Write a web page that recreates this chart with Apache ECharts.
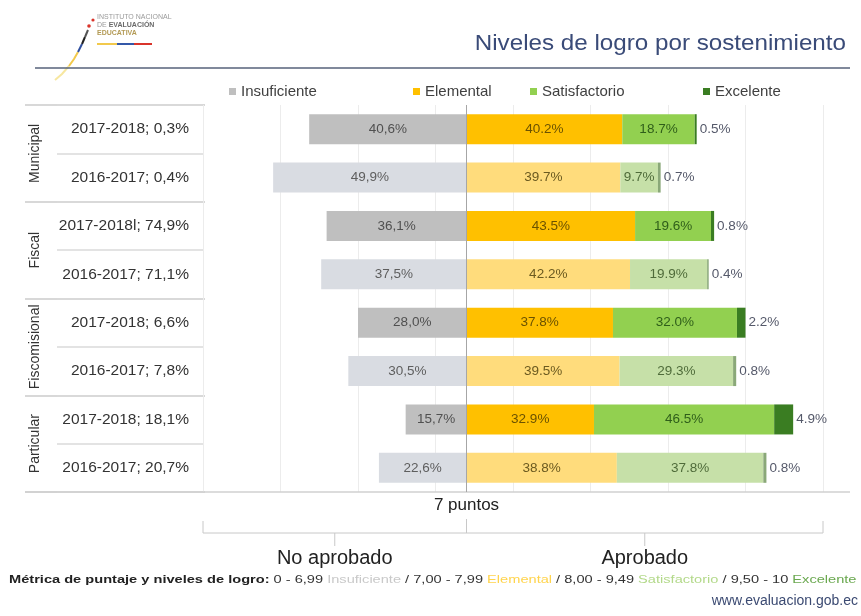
<!DOCTYPE html>
<html>
<head>
<meta charset="utf-8">
<script src="https://cdn.jsdelivr.net/npm/echarts@6/dist/echarts.min.js"></script>
<style>
  html, body { margin: 0; padding: 0; background: #fff; }
  #chart { width: 861px; height: 616px; }
</style>
</head>
<body>
<div id="chart"></div>
<script>
// datos (% de estudiantes por nivel)
const groups = ['Municipal', 'Fiscal', 'Fiscomisional', 'Particular']
const rowLabels = [
  '2017-2018; 0,3%', '2016-2017; 0,4%',
  '2017-2018l; 74,9%', '2016-2017; 71,1%',
  '2017-2018; 6,6%', '2016-2017; 7,8%',
  '2017-2018; 18,1%', '2016-2017; 20,7%'
]
const levels = ['Insuficiente', 'Elemental', 'Satisfactorio', 'Excelente']
const insuficiente = [40.6, 49.9, 36.1, 37.5, 28.0, 30.5, 15.7, 22.6]
const elemental = [40.2, 39.7, 43.5, 42.2, 37.8, 39.5, 32.9, 38.8]
const satisfactorio = [18.7, 9.7, 19.6, 19.9, 32.0, 29.3, 46.5, 37.8]
const excelente = [0.5, 0.7, 0.8, 0.4, 2.2, 0.8, 4.9, 0.8]

// colores: fila 2017-2018 oscura, fila 2016-2017 clara
const darkColors = ['#bfbfbf', '#ffc000', '#92d050', '#3a7d22']
const lightColors = ['#d9dce2', '#ffdc7c', '#c6e0a8', '#8aa878']
const darkLabel = ['#505050', '#6b5200', '#2f5e1a', '#55596a']
const lightLabel = ['#5e5e5e', '#6b5a20', '#4f6b3a', '#55596a']

const axisMin = -68
const axisMax = 92
const font = 'Liberation Sans, Arial, sans-serif'

const chart = echarts.init(document.getElementById('chart'))

const fmtComma = p => Math.abs(p.value).toFixed(1).replace('.', ',') + '%'
const fmtDot = p => Math.abs(p.value).toFixed(1) + '%'

const makeData = (vals, li, sign) => vals.map((v, i) => ({
  value: sign * v,
  itemStyle: { color: i % 2 === 0 ? darkColors[li] : lightColors[li] },
  label: { color: i % 2 === 0 ? darkLabel[li] : lightLabel[li] }
}))

const valueSets = [insuficiente, elemental, satisfactorio, excelente]

const series = valueSets.map((vals, li) => ({
  name: levels[li],
  type: 'bar',
  stack: 'total',
  barWidth: 30,
  xAxisIndex: 0,
  yAxisIndex: 0,
  itemStyle: { color: darkColors[li] },
  data: makeData(vals, li, li === 0 ? -1 : 1),
  label: {
    show: true,
    position: li === 3 ? 'right' : 'inside',
    distance: 3,
    fontSize: 13.5,
    fontFamily: font,
    formatter: li === 0 ? fmtComma : fmtDot
  },
  markLine: li === 1 ? {
    silent: true,
    symbol: ['none', 'none'],
    label: { show: false },
    lineStyle: { color: '#a6a6a6', type: 'solid', width: 1 },
    data: [{ xAxis: 0 }]
  } : undefined
}))

const legendLeft = [229, 413, 530, 703]

chart.setOption({
  animation: false,
  textStyle: { fontFamily: font },
  legend: legendLeft.map((l, i) => ({
    data: [levels[i]],
    left: l,
    top: 84,
    padding: 0,
    icon: 'rect',
    itemWidth: 7,
    itemHeight: 7,
    itemGap: 0,
    textStyle: { fontSize: 15, color: '#404040', fontFamily: font }
  })),
  grid: [
    { left: 203, width: 620, top: 105, height: 387 },
    { left: 25, width: 180, top: 105, height: 387 },
    { left: 57, width: 146, top: 105, height: 387 }
  ],
  xAxis: [
    { gridIndex: 0, type: 'value', min: axisMin, max: axisMax, show: false },
    {
      gridIndex: 0, type: 'value', min: 0, max: 160, interval: 20, position: 'top',
      axisLine: { show: false }, axisTick: { show: false }, axisLabel: { show: false },
      splitLine: { show: true, lineStyle: { color: '#ececec', width: 1 } }
    },
    { gridIndex: 1, type: 'value', min: 0, max: 1, show: false },
    { gridIndex: 2, type: 'value', min: 0, max: 1, show: false }
  ],
  yAxis: [
    {
      gridIndex: 0, type: 'category', inverse: true, data: rowLabels,
      axisLine: { show: false }, axisTick: { show: false },
      axisLabel: { interval: 0, margin: 14, fontSize: 15.5, color: '#333', fontFamily: font }
    },
    {
      gridIndex: 1, type: 'category', inverse: true, data: groups,
      axisLine: { show: false }, axisTick: { show: false },
      axisLabel: { interval: 0, inside: true, rotate: 90, margin: 3, fontSize: 14, color: '#333', fontFamily: font },
      splitLine: { show: true, interval: 0, lineStyle: { color: '#cbcbcb', width: 1.5 } }
    },
    {
      gridIndex: 2, type: 'category', inverse: true, data: rowLabels,
      axisLine: { show: false }, axisTick: { show: false }, axisLabel: { show: false },
      splitLine: { show: true, interval: 0, lineStyle: { color: '#dadada', width: 1.5 } }
    }
  ],
  series: series
})

// decoraciones: encabezado, llave de "7 puntos" y pie
const px = v => chart.convertToPixel({ xAxisIndex: 0 }, v)
const xl = px(axisMin)
const x0 = px(0)
const xr = px(axisMax)
const midL = (xl + x0) / 2
const midR = (x0 + xr) / 2
const bracketColor = '#c8c8c8'

chart.setOption({
  graphic: [
    // logo
    { type: 'polyline', shape: { points: [[55, 80], [62, 74], [69, 66]] }, style: { stroke: '#f7e7a0', lineWidth: 2, fill: null } },
    { type: 'polyline', shape: { points: [[69, 66], [74, 59], [78, 52]] }, style: { stroke: '#f2c94c', lineWidth: 2, fill: null } },
    { type: 'polyline', shape: { points: [[78, 52], [82, 44]] }, style: { stroke: '#2f4f9f', lineWidth: 2, fill: null } },
    { type: 'polyline', shape: { points: [[82, 44], [85, 37]] }, style: { stroke: '#222', lineWidth: 2, fill: null } },
    { type: 'polyline', shape: { points: [[85, 37], [88, 30]] }, style: { stroke: '#555', lineWidth: 2, fill: null } },
    { type: 'circle', shape: { cx: 89, cy: 26, r: 1.8 }, style: { fill: '#d9342b' } },
    { type: 'circle', shape: { cx: 93, cy: 20, r: 1.6 }, style: { fill: '#d9342b' } },
    { type: 'text', x: 97, y: 17, style: { text: 'INSTITUTO NACIONAL', fontSize: 7, fill: '#9a9a9a', fontFamily: font, verticalAlign: 'middle' } },
    {
      type: 'text', x: 97, y: 25,
      style: {
        text: '{n|DE }{b|EVALUACIÓN}', verticalAlign: 'middle', fontFamily: font,
        rich: { n: { fontSize: 7, fill: '#9a9a9a' }, b: { fontSize: 7, fontWeight: 'bold', fill: '#6a6a6a' } }
      }
    },
    { type: 'text', x: 97, y: 33, style: { text: 'EDUCATIVA', fontSize: 7, fontWeight: 'bold', fill: '#b39a55', fontFamily: font, verticalAlign: 'middle' } },
    { type: 'rect', shape: { x: 97, y: 43, width: 20, height: 2 }, style: { fill: '#f2c94c' } },
    { type: 'rect', shape: { x: 117, y: 43, width: 17, height: 2 }, style: { fill: '#3458a8' } },
    { type: 'rect', shape: { x: 134, y: 43, width: 18, height: 2 }, style: { fill: '#d9342b' } },
    // título
    { type: 'text', x: 846, y: 44, scaleX: 1.1, style: { text: 'Niveles de logro por sostenimiento', fontSize: 22, fill: '#3a4b78', fontFamily: font, align: 'right', verticalAlign: 'middle' } },
    { type: 'line', shape: { x1: 35, y1: 68, x2: 850, y2: 68 }, style: { stroke: '#56627a', lineWidth: 1.5 } },
    // línea inferior de la tabla
    { type: 'line', shape: { x1: 25, y1: 492, x2: 850, y2: 492 }, style: { stroke: '#d0d0d0', lineWidth: 1.5 } },
    // llave
    { type: 'text', x: x0, y: 505, style: { text: '7 puntos', fontSize: 17, fill: '#222', fontFamily: font, align: 'center', verticalAlign: 'middle' } },
    { type: 'polyline', shape: { points: [[xl, 521], [xl, 533], [xr, 533], [xr, 521]] }, style: { stroke: bracketColor, lineWidth: 1, fill: null } },
    { type: 'line', shape: { x1: x0, y1: 519, x2: x0, y2: 533 }, style: { stroke: bracketColor, lineWidth: 1 } },
    { type: 'line', shape: { x1: midL, y1: 533, x2: midL, y2: 546 }, style: { stroke: bracketColor, lineWidth: 1 } },
    { type: 'line', shape: { x1: midR, y1: 533, x2: midR, y2: 546 }, style: { stroke: bracketColor, lineWidth: 1 } },
    { type: 'text', x: midL, y: 558, style: { text: 'No aprobado', fontSize: 20, fill: '#222', fontFamily: font, align: 'center', verticalAlign: 'middle' } },
    { type: 'text', x: midR, y: 558, style: { text: 'Aprobado', fontSize: 20, fill: '#222', fontFamily: font, align: 'center', verticalAlign: 'middle' } },
    // pie
    {
      type: 'text', x: 9, y: 580, scaleX: 1.27,
      style: {
        text: '{b|Métrica de puntaje y niveles de logro:}{n| 0 - 6,99 }{i|Insuficiente}{n| / 7,00 - 7,99 }{e|Elemental}{n| / 8,00 - 9,49 }{s|Satisfactorio}{n| / 9,50 - 10 }{x|Excelente}',
        verticalAlign: 'middle', fontFamily: font,
        rich: {
          b: { fontSize: 11.5, fontWeight: 'bold', fill: '#222', fontFamily: font },
          n: { fontSize: 11.5, fill: '#333', fontFamily: font },
          i: { fontSize: 11.5, fill: '#c9c9c9', fontFamily: font },
          e: { fontSize: 11.5, fill: '#ffd44d', fontFamily: font },
          s: { fontSize: 11.5, fill: '#b3d98a', fontFamily: font },
          x: { fontSize: 11.5, fill: '#6aa84f', fontFamily: font }
        }
      }
    },
    { type: 'text', x: 858, y: 601, style: { text: 'www.evaluacion.gob.ec', fontSize: 14, fill: '#3b4a72', fontFamily: font, align: 'right', verticalAlign: 'middle' } }
  ]
})

window.addEventListener('resize', () => chart.resize())
</script>
</body>
</html>
